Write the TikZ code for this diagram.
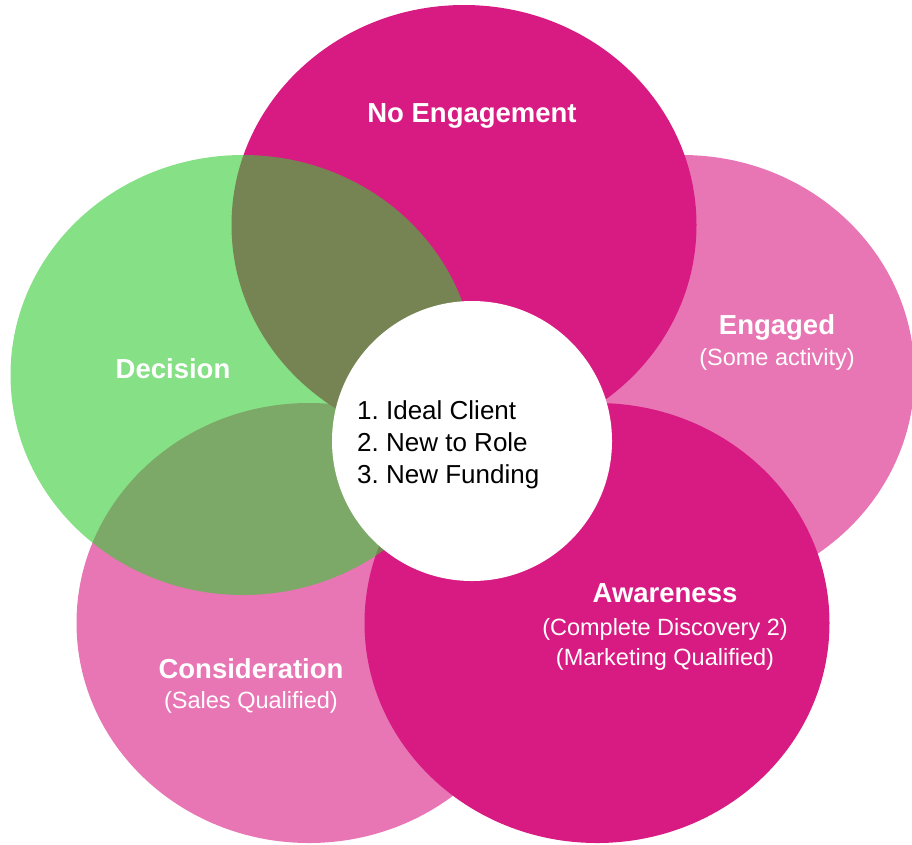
\documentclass[tikz,border=0pt]{standalone}
\usepackage{fontspec}
\setmainfont{Liberation Sans}
\usetikzlibrary{positioning}

\definecolor{stagemagenta}{RGB}{216,27,130}
\colorlet{stagepink}{stagemagenta!60}
\definecolor{stagegreen}{RGB}{53,203,52}

\frenchspacing

\begin{document}
\begin{tikzpicture}[
    x=1pt, y=-1pt,
    stage/.style={x radius=232.5pt, y radius=220pt},
    title/.style={font=\fontsize{27.5}{30}\selectfont\bfseries,
                  text=white, anchor=base, inner sep=0pt},
    sub/.style={font=\fontsize{23.5}{26}\selectfont,
                text=white, anchor=base, inner sep=0pt},
    core/.style={font=\fontsize{26}{32}\selectfont,
                 anchor=base west, align=left, inner sep=0pt}
  ]
  \useasboundingbox (0,0) rectangle (912,844);

  % stage centres
  \coordinate (cNoEng)   at (464,225);
  \coordinate (cEngaged) at (682,375);
  \coordinate (cAware)   at (597,623);
  \coordinate (cConsid)  at (309,623);
  \coordinate (cDecide)  at (243,375);
  \coordinate (cCore)    at (472,441);

  % back to front
  \fill[stagepink]    (cEngaged) ellipse [stage];
  \fill[stagepink]    (cConsid)  ellipse [stage];
  \fill[stagemagenta] (cNoEng)   ellipse [stage];
  \fill[stagemagenta] (cAware)   ellipse [stage];
  \fill[stagegreen, fill opacity=0.6] (cDecide) ellipse [stage];
  \fill[white] (cCore) circle [radius=140pt];

  % labels
  \node[title] (noeng)    at (472,122) {No Engagement};
  \node[title] (engaged)  at (777,334) {Engaged};
  \node[sub]   (engsub)   at ([yshift=-31pt]engaged.base) {(Some activity)};
  \node[title] (aware)    at (665,602) {Awareness};
  \node[sub]   (awsub1)   at ([yshift=-33pt]aware.base) {(Complete Discovery 2)};
  \node[sub]   (awsub2)   at ([yshift=-63pt]aware.base) {(Marketing Qualified)};
  \node[title] (consid)   at (251,678) {Consideration};
  \node[sub]   (consub)   at ([yshift=-30pt]consid.base) {(Sales Qualified)};
  \node[title] (decide)   at (173,378) {Decision};

  % base of a multi-line node sits on its last line
  \node[core] (corelist) at (357,483) {1. Ideal Client\\2. New to Role\\3. New Funding};
\end{tikzpicture}
\end{document}
